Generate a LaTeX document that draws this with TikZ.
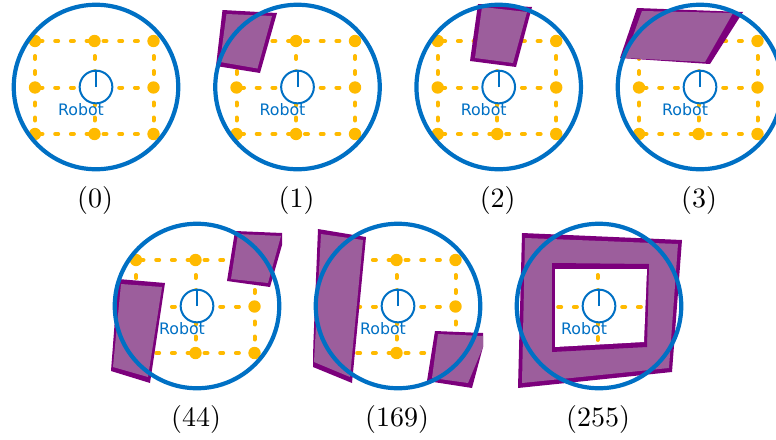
\documentclass[tikz,border=0pt]{standalone}
\usepackage{fontspec}
\usepackage{graphicx}
\newfontfamily\robotfont{DejaVu Sans}
\definecolor{rbblue}{HTML}{0070C4}
\definecolor{gridorange}{HTML}{FFBA00}
\definecolor{obdark}{HTML}{7C007C}
\definecolor{oblight}{HTML}{9C5E9C}
\tikzset{
  griddot/.style={circle,fill=gridorange,inner sep=0pt,minimum size=12.4pt},
  gridseg/.style={gridorange,line width=4pt,line cap=round},
  rowa/.style={gridseg,dash pattern=on 3pt off 12.7pt,dash phase=11.2pt},
  rowb/.style={gridseg,dash pattern=on 3pt off 12.7pt,dash phase=6.7pt},
  colseg/.style={gridseg,dash pattern=on 3pt off 12pt},
  sensorring/.style={circle,draw=rbblue,line width=4.2pt,inner sep=0pt,minimum size=164.5pt},
  robotbody/.style={circle,draw=rbblue,fill=white,line width=2pt,inner sep=0pt,minimum size=32.7pt},
  robottick/.style={draw=rbblue,line width=2pt},
  robotlabel/.style={text=rbblue,anchor=base,inner sep=0pt,font=\robotfont\fontsize{15.8}{18}\selectfont},
  panelcaption/.style={text=black,inner sep=0pt,font=\fontsize{10}{12}\selectfont},
}
% #1 name, #2 cx, #3 cy, #4 caption, #5 obstacles
\newcommand{\rbpanel}[5]{%
  \begin{scope}[shift={(#2,#3)}]
    \node[griddot] (#1tl) at (-61,-46) {};
    \node[griddot] (#1tm) at (-1.5,-46) {};
    \node[griddot] (#1tr) at (57.5,-46) {};
    \node[griddot] (#1ml) at (-61,0.5) {};
    \coordinate (#1mm) at (-1.5,0.5);
    \node[griddot] (#1mr) at (57.5,0.5) {};
    \node[griddot] (#1bl) at (-61,47) {};
    \node[griddot] (#1bm) at (-1.5,47) {};
    \node[griddot] (#1br) at (57.5,47) {};
    \draw[rowa] (#1tl.center) -- (#1tm.center);
    \draw[rowb] (#1tm.center) -- (#1tr.center);
    \draw[rowa] (#1ml.center) -- (#1mm);
    \draw[rowb] (#1mm) -- (#1mr.center);
    \draw[rowa] (#1bl.center) -- (#1bm.center);
    \draw[rowb] (#1bm.center) -- (#1br.center);
    \draw[colseg] (#1tl.center) -- (#1ml.center);
    \draw[colseg] (#1ml.center) -- (#1bl.center);
    \draw[colseg] (#1tm.center) -- (#1mm);
    \draw[colseg] (#1mm) -- (#1bm.center);
    \draw[colseg] (#1tr.center) -- (#1mr.center);
    \draw[colseg] (#1mr.center) -- (#1br.center);
  \end{scope}
  #5
  \begin{scope}[shift={(#2,#3)}]
    \node[robotbody] (#1robot) at (0,0) {};
    \draw[robottick] (#1robot.center) -- (#1robot.north);
    \node[robotlabel] (#1label) at (-15,28.7) {Robot};
    \node[sensorring] (#1ring) at (0,0) {};
    \node[panelcaption] (#1caption) at (-1,113) {\scalebox{2.8}{(#4)}};
  \end{scope}
}
\newcommand{\obst}[2]{\fill[obdark] #1 -- cycle; \fill[oblight] #2 -- cycle;}
\begin{document}
\begin{tikzpicture}[x=1pt,y=-1pt]
\useasboundingbox (0,0) rectangle (776,439);
\rbpanel{a}{96}{87}{0}{}
\rbpanel{b}{297.5}{87}{1}{\obst{(222.5,10) -- (277,13) -- (260,73) -- (216,66)}{(226.5,14) -- (272,16) -- (257.5,68.5) -- (220,62)}}
\rbpanel{c}{498.7}{87}{2}{\obst{(478,4) -- (532,7) -- (516,67) -- (470,61)}{(482,7) -- (527,12) -- (513,63) -- (475,58)}}
\rbpanel{d}{700}{87}{3}{\obst{(637,8) -- (743,12) -- (710,64) -- (620,58)}{(642,11) -- (733,13) -- (705,62) -- (625,58)}}
\rbpanel{e}{197}{306}{44}{%
  \obst{(235,231) -- (282,233) -- (282,245) -- (270,287) -- (227,281)}{(238,234) -- (281,236) -- (268,283) -- (231,279)}%
  \obst{(118,279) -- (165,283) -- (150,383) -- (111,371)}{(121,284) -- (162,287) -- (148,377) -- (113,367)}}
\rbpanel{f}{398}{306}{169}{%
  \obst{(318,229) -- (366,237) -- (352,383) -- (313,367) -- (313.3,345)}{(321,234) -- (363,240) -- (350,377) -- (314,362)}%
  \obst{(435,331) -- (483,333) -- (483,347) -- (472,388) -- (427,381)}{(438,334) -- (483,336) -- (483,347) -- (468,383) -- (432,378)}}
\rbpanel{g}{599}{306}{255}{%
  \obst{(522,233) -- (682,240) -- (672,372) -- (518,388)}{(525,238) -- (678,244) -- (669,368) -- (522,383)}%
  \fill[obdark] (552,263) -- (649,264) -- (647,347) -- (552,352) -- cycle;%
  \begin{scope}
    \clip (555,269) -- (647,269) -- (644,342) -- (555,347) -- cycle;
    \fill[white] (540,255) rectangle (660,360);
    \draw[rowa] (538,307) -- (597.5,307);
    \draw[rowb] (597.5,307) -- (656.5,307);
    \draw[colseg] (597.5,260) -- (597.5,307);
    \draw[colseg] (597.5,307) -- (597.5,353);
  \end{scope}}
\end{tikzpicture}
\end{document}
